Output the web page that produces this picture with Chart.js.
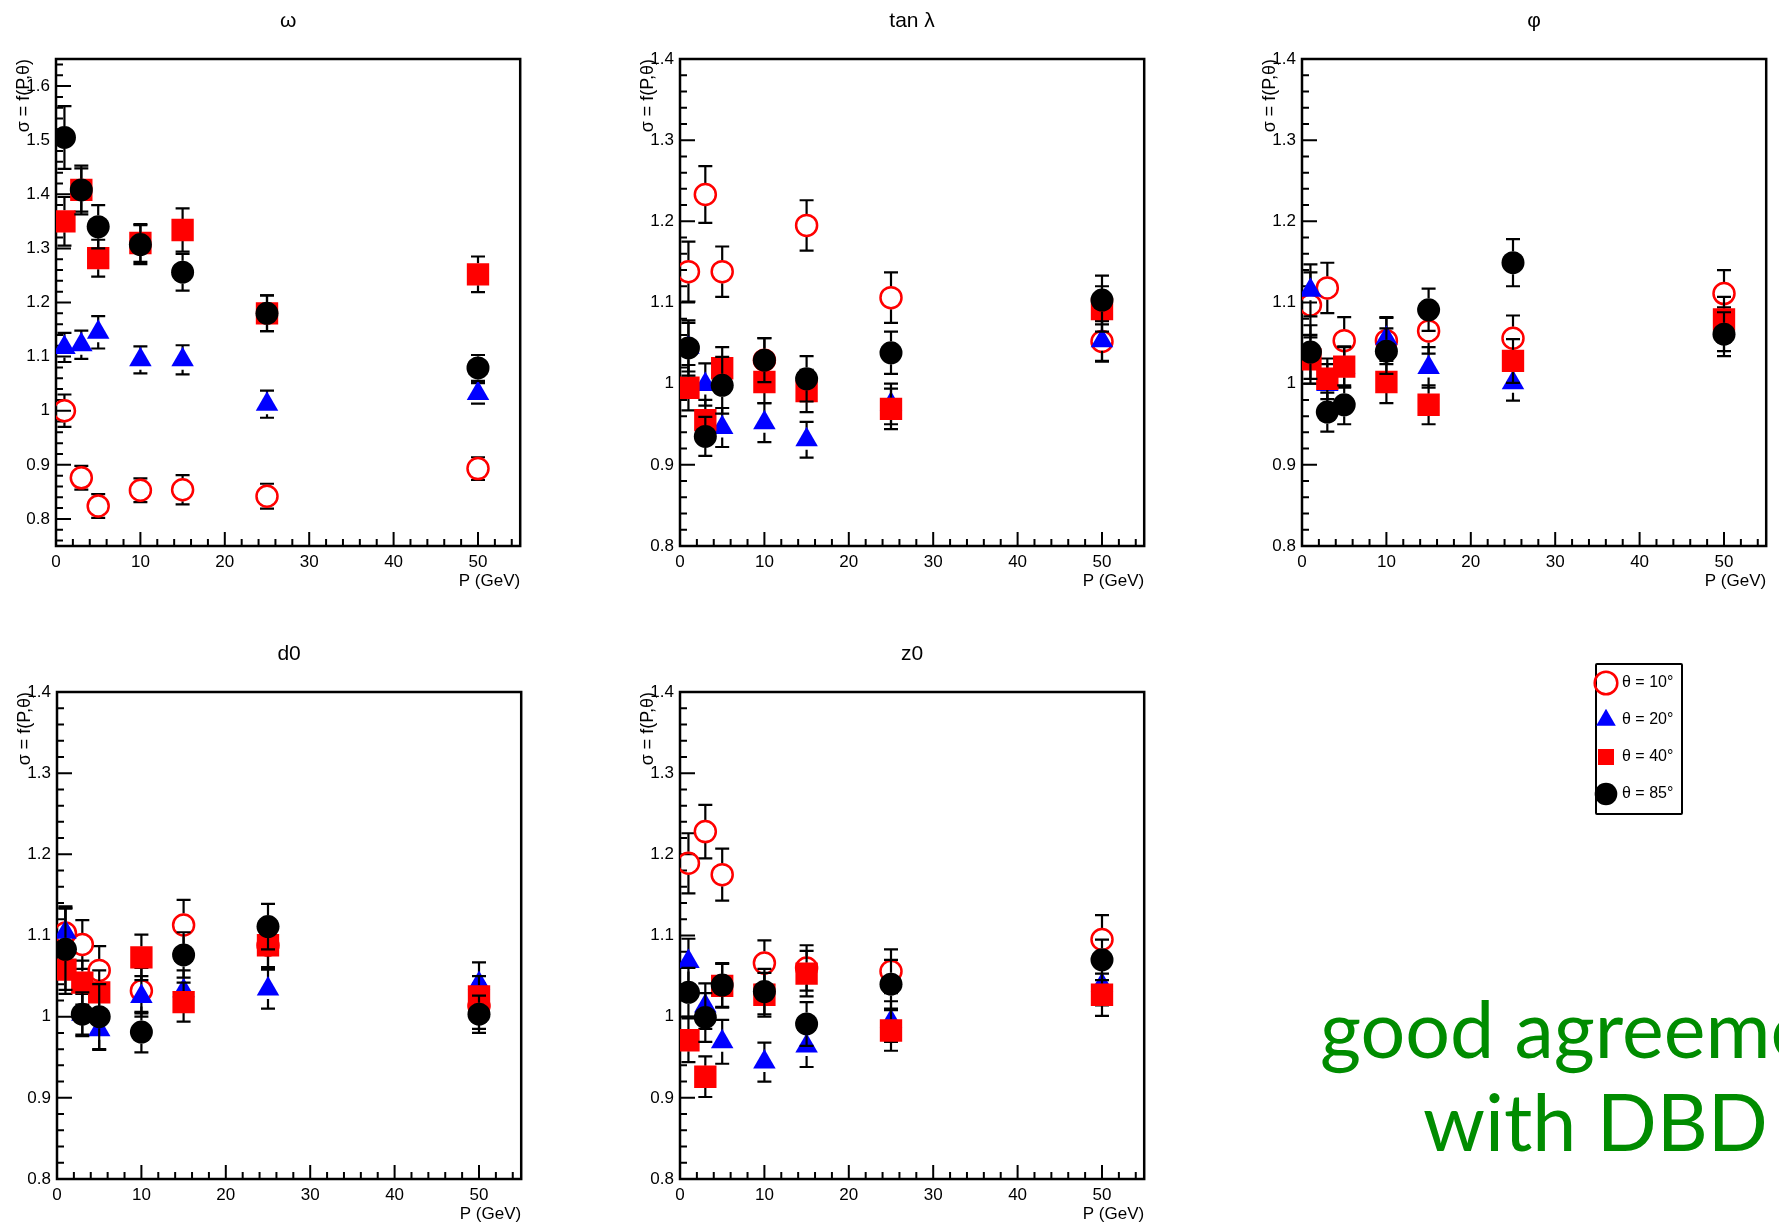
<!DOCTYPE html>
<html>
<head>
<meta charset="utf-8">
<title>track parameter resolution ratios</title>
<script src="https://cdn.jsdelivr.net/npm/chart.js@4.4.1/dist/chart.umd.min.js"></script>
<style>
  html, body { margin: 0; padding: 0; background: #fff; }
  body { width: 1779px; height: 1227px; position: relative; overflow: hidden; }
  canvas { position: absolute; }
  .legendBox { position: absolute; left: 1595px; top: 663px; width: 88px; height: 152px;
               border: 2px solid #000; box-sizing: border-box; border-radius: 2px; }
  .note { position: absolute; font-family: Lato, "Open Sans", sans-serif; font-size: 79px;
          color: #008c00; white-space: nowrap; line-height: 1; }
</style>
</head>
<body>
<div class="legendBox"></div>
<canvas id="cOmega" width="536" height="596" style="left:0px;top:0px"></canvas>
<canvas id="cTanl" width="536" height="596" style="left:624px;top:0px"></canvas>
<canvas id="cPhi" width="536" height="596" style="left:1246px;top:0px"></canvas>
<canvas id="cD0" width="536" height="596" style="left:1px;top:633px"></canvas>
<canvas id="cZ0" width="536" height="596" style="left:624px;top:633px"></canvas>
<canvas id="cLegend" width="260" height="200" style="left:1577px;top:654px"></canvas>
<div class="note" style="left:1320px;top:988px">good agreement</div>
<div class="note" style="left:1423px;top:1081px">with DBD</div>

<script>
// momentum points (GeV) and axis ticks
const momenta = [1, 3, 5, 10, 15, 25, 50];
const xTickValues = [0, 10, 20, 30, 40, 50];
const yTicksOmega = [0.8, 0.9, 1, 1.1, 1.2, 1.3, 1.4, 1.5, 1.6];
const yTicksOther = [0.8, 0.9, 1, 1.1, 1.2, 1.3, 1.4];
const thetaLabels = ["θ = 10°", "θ = 20°", "θ = 40°", "θ = 85°"];

// omega
const omega10 = [1.000, 0.876, 0.824, 0.853, 0.854, 0.842, 0.893];
const omega20 = [1.117, 1.122, 1.145, 1.094, 1.094, 1.012, 1.032];
const omega40 = [1.350, 1.408, 1.282, 1.310, 1.334, 1.180, 1.252];
const omega85 = [1.505, 1.408, 1.340, 1.307, 1.256, 1.180, 1.079];
const omega10Err = [0.030, 0.022, 0.022, 0.022, 0.027, 0.023, 0.021];
const omega20Err = [0.027, 0.026, 0.030, 0.025, 0.027, 0.025, 0.019];
const omega40Err = [0.045, 0.040, 0.034, 0.035, 0.040, 0.033, 0.033];
const omega85Err = [0.058, 0.045, 0.040, 0.036, 0.034, 0.033, 0.024];

// tan lambda
const tanl10 = [1.138, 1.233, 1.138, 1.029, 1.195, 1.106, 1.052];
const tanl20 = [1.045, 0.999, 0.946, 0.952, 0.931, 0.975, 1.053];
const tanl40 = [0.995, 0.955, 1.019, 1.002, 0.991, 0.969, 1.092];
const tanl85 = [1.044, 0.935, 0.998, 1.029, 1.006, 1.038, 1.103];
const tanl10Err = [0.037, 0.035, 0.031, 0.027, 0.031, 0.031, 0.025];
const tanl20Err = [0.030, 0.026, 0.024, 0.024, 0.022, 0.025, 0.025];
const tanl40Err = [0.028, 0.025, 0.026, 0.026, 0.026, 0.025, 0.028];
const tanl85Err = [0.034, 0.024, 0.035, 0.027, 0.028, 0.026, 0.030];

// phi
const phi10 = [1.097, 1.118, 1.053, 1.053, 1.065, 1.056, 1.111];
const phi20 = [1.115, 0.999, 1.020, 1.056, 1.020, 1.001, 1.067];
const phi40 = [1.030, 1.006, 1.021, 1.002, 0.974, 1.028, 1.079];
const phi85 = [1.039, 0.965, 0.974, 1.040, 1.091, 1.149, 1.061];
const phi10Err = [0.040, 0.031, 0.029, 0.029, 0.028, 0.028, 0.029];
const phi20Err = [0.032, 0.025, 0.025, 0.025, 0.025, 0.022, 0.027];
const phi40Err = [0.030, 0.025, 0.025, 0.026, 0.024, 0.027, 0.028];
const phi85Err = [0.033, 0.024, 0.024, 0.028, 0.026, 0.029, 0.027];

// d0
const d010 = [1.103, 1.089, 1.057, 1.032, 1.113, 1.088, 1.013];
const d020 = [1.104, 1.003, 0.984, 1.025, 1.032, 1.034, 1.041];
const d040 = [1.058, 1.042, 1.030, 1.073, 1.018, 1.088, 1.025];
const d085 = [1.083, 1.003, 1.000, 0.981, 1.076, 1.111, 1.003];
const d010Err = [0.033, 0.030, 0.030, 0.028, 0.031, 0.028, 0.028];
const d020Err = [0.030, 0.025, 0.025, 0.025, 0.025, 0.024, 0.026];
const d040Err = [0.030, 0.027, 0.027, 0.028, 0.024, 0.027, 0.025];
const d085Err = [0.050, 0.027, 0.040, 0.025, 0.028, 0.028, 0.023];

// z0
const z010 = [1.189, 1.228, 1.175, 1.066, 1.060, 1.056, 1.095];
const z020 = [1.068, 1.013, 0.969, 0.944, 0.964, 0.994, 1.039];
const z040 = [0.971, 0.926, 1.038, 1.027, 1.053, 0.983, 1.027];
const z085 = [1.030, 0.999, 1.039, 1.031, 0.991, 1.040, 1.070];
const z010Err = [0.037, 0.033, 0.032, 0.028, 0.028, 0.027, 0.030];
const z020Err = [0.028, 0.028, 0.027, 0.024, 0.026, 0.025, 0.025];
const z040Err = [0.027, 0.025, 0.027, 0.027, 0.028, 0.025, 0.026];
const z085Err = [0.030, 0.030, 0.027, 0.028, 0.027, 0.030, 0.025];

Chart.defaults.font.family = "'Liberation Sans', Arial, sans-serif";
Chart.defaults.color = "#000";

// ROOT-like markers: open red circle, blue triangle, red square, black dot
const markers = [
  { pointStyle: "circle", pointRadius: 10.5, backgroundColor: "rgba(255,255,255,0)", borderColor: "#ff0000", borderWidth: 2.5, gap: 11.5 },
  { pointStyle: "triangle", pointRadius: 13, backgroundColor: "#0000ff", borderColor: "#0000ff", borderWidth: 0, gap: 10 },
  { pointStyle: "rect", pointRadius: 15.8, backgroundColor: "#ff0000", borderColor: "#ff0000", borderWidth: 0, gap: 11 },
  { pointStyle: "circle", pointRadius: 11.5, backgroundColor: "#000000", borderColor: "#000000", borderWidth: 0, gap: 11.5 }
];

// frame, inner ticks and panel title
const panelDecor = {
  id: "panelDecor",
  beforeDatasetsDraw(chart, args, opts) {
    const { ctx, chartArea: a, scales: { x, y } } = chart;
    ctx.save();
    ctx.strokeStyle = "#000";
    ctx.lineWidth = 2;
    ctx.beginPath();
    // y ticks every 0.02, major every 0.1
    const iMin = Math.ceil(y.min * 50 - 1e-6), iMax = Math.floor(y.max * 50 + 1e-6);
    for (let i = iMin; i <= iMax; i++) {
      const py = y.getPixelForValue(i / 50);
      const len = i % 5 === 0 ? 15 : 7;
      ctx.moveTo(a.left, py);
      ctx.lineTo(a.left + len, py);
    }
    // x ticks every 2, major every 10
    for (let v = 0; v <= x.max; v += 2) {
      const px = x.getPixelForValue(v);
      const len = v % 10 === 0 ? 14 : 7;
      ctx.moveTo(px, a.bottom);
      ctx.lineTo(px, a.bottom - len);
    }
    ctx.stroke();
    ctx.lineWidth = 2.5;
    ctx.strokeRect(a.left, a.top, a.right - a.left, a.bottom - a.top);
    ctx.restore();
  },
  afterDraw(chart, args, opts) {
    const { ctx, chartArea: a } = chart;
    ctx.save();
    ctx.fillStyle = "#000";
    ctx.font = "21px 'Liberation Sans', Arial, sans-serif";
    ctx.textAlign = "center";
    ctx.textBaseline = "middle";
    ctx.fillText(opts.title, (a.left + a.right) / 2, a.top - 38);
    ctx.restore();
  }
};

// vertical error bars with end caps, drawn just under each series
const errorBars = {
  id: "errorBars",
  beforeDatasetDraw(chart, args) {
    const ds = chart.data.datasets[args.index];
    if (!ds.errors) return;
    const { ctx, scales: { y } } = chart;
    ctx.save();
    ctx.strokeStyle = "#000";
    ctx.lineWidth = 2.2;
    ctx.beginPath();
    args.meta.data.forEach((pt, i) => {
      const v = ds.data[i].y, e = ds.errors[i];
      const top = y.getPixelForValue(v + e), bot = y.getPixelForValue(v - e);
      if (pt.y - top > ds.gap) { ctx.moveTo(pt.x, top); ctx.lineTo(pt.x, pt.y - ds.gap); }
      if (bot - pt.y > ds.gap) { ctx.moveTo(pt.x, pt.y + ds.gap); ctx.lineTo(pt.x, bot); }
      ctx.moveTo(pt.x - 7, top); ctx.lineTo(pt.x + 7, top);
      ctx.moveTo(pt.x - 7, bot); ctx.lineTo(pt.x + 7, bot);
    });
    ctx.stroke();
    ctx.restore();
  }
};

function makeDatasets(series, errors) {
  return series.map((vals, k) => Object.assign({
    label: thetaLabels[k],
    data: momenta.map((p, i) => ({ x: p, y: vals[i] })),
    errors: errors[k],
    order: 4 - k
  }, markers[k]));
}

function drawPanel(id, title, yMin, yMax, yTicks, series, errors) {
  new Chart(document.getElementById(id), {
    type: "scatter",
    data: { datasets: makeDatasets(series, errors) },
    options: {
      responsive: false,
      animation: false,
      events: [],
      layout: { padding: { top: 59, right: 10, bottom: 0, left: 0 } },
      plugins: {
        legend: { display: false },
        tooltip: { enabled: false },
        panelDecor: { title: title }
      },
      scales: {
        x: {
          type: "linear", min: 0, max: 55,
          afterBuildTicks: s => { s.ticks = xTickValues.map(v => ({ value: v })); },
          afterFit: s => { s.height = 50; },
          grid: { display: false, drawTicks: false },
          border: { display: false },
          ticks: { padding: 6, font: { size: 17 }, maxRotation: 0, autoSkip: false },
          title: { display: true, text: "P (GeV)", align: "end", font: { size: 17 }, padding: { top: 0, bottom: 4 } }
        },
        y: {
          type: "linear", min: yMin, max: yMax,
          afterBuildTicks: s => { s.ticks = yTicks.map(v => ({ value: v })); },
          afterFit: s => { s.width = 56; },
          grid: { display: false, drawTicks: false },
          border: { display: false },
          ticks: { padding: 6, font: { size: 17 }, autoSkip: false,
                   callback: v => String(Math.round(v * 10) / 10) },
          title: { display: true, text: "σ = f(P,θ)", align: "end", font: { size: 18 }, padding: { top: 13, bottom: 0 } }
        }
      }
    },
    plugins: [panelDecor, errorBars]
  });
}

drawPanel("cOmega", "ω", 0.75, 1.65, yTicksOmega,
  [omega10, omega20, omega40, omega85], [omega10Err, omega20Err, omega40Err, omega85Err]);
drawPanel("cTanl", "tan λ", 0.8, 1.4, yTicksOther,
  [tanl10, tanl20, tanl40, tanl85], [tanl10Err, tanl20Err, tanl40Err, tanl85Err]);
drawPanel("cPhi", "φ", 0.8, 1.4, yTicksOther,
  [phi10, phi20, phi40, phi85], [phi10Err, phi20Err, phi40Err, phi85Err]);
drawPanel("cD0", "d0", 0.8, 1.4, yTicksOther,
  [d010, d020, d040, d085], [d010Err, d020Err, d040Err, d085Err]);
drawPanel("cZ0", "z0", 0.8, 1.4, yTicksOther,
  [z010, z020, z040, z085], [z010Err, z020Err, z040Err, z085Err]);

// shared legend
new Chart(document.getElementById("cLegend"), {
  type: "scatter",
  data: { datasets: thetaLabels.map((lab, k) => Object.assign({ label: lab, data: [] }, markers[k])) },
  options: {
    responsive: false,
    animation: false,
    events: [],
    layout: { padding: 0 },
    scales: { x: { display: false }, y: { display: false } },
    plugins: {
      tooltip: { enabled: false },
      legend: {
        position: "left", align: "start",
        labels: { usePointStyle: true, padding: 21, font: { size: 16 }, color: "#000" }
      }
    }
  }
});
</script>
</body>
</html>
